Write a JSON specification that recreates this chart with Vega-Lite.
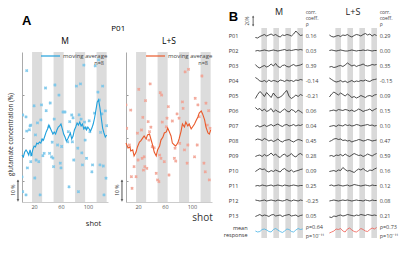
{
"$schema": "https://vega.github.io/schema/vega-lite/v6.json",
"padding": {"left": 7, "top": 8, "right": 0, "bottom": 0},
"config": {"font": "Open Sans", "view": {"stroke": null}, "axis": {"grid": false}, "axisX": {"labelOverlap": false, "labelBound": false, "labelFlush": false}},
"spacing": 10,
"datasets": {
"bands": [{"s0":17,"s1":32},{"s0":49,"s1":64},{"s0":81,"s1":96},{"s0":113,"s1":128}],
"a": [
{"c":"M","k":"avg","s":2,"v":-8.1},{"c":"M","k":"avg","s":4,"v":-9.0},{"c":"M","k":"avg","s":6,"v":-6.7},{"c":"M","k":"avg","s":8,"v":-5.7},{"c":"M","k":"avg","s":10,"v":-6.7},{"c":"M","k":"avg","s":12,"v":-8.1},{"c":"M","k":"avg","s":14,"v":-5.7},{"c":"M","k":"avg","s":16,"v":-8.5},{"c":"M","k":"avg","s":18,"v":-5.7},{"c":"M","k":"avg","s":20,"v":-3.9},{"c":"M","k":"avg","s":22,"v":-4.3},{"c":"M","k":"avg","s":24,"v":-2.5},{"c":"M","k":"avg","s":26,"v":-2.9},{"c":"M","k":"avg","s":28,"v":-2.0},{"c":"M","k":"avg","s":30,"v":-2.5},{"c":"M","k":"avg","s":32,"v":-0.6},{"c":"M","k":"avg","s":34,"v":-1.1},{"c":"M","k":"avg","s":36,"v":0.8},{"c":"M","k":"avg","s":38,"v":2.7},{"c":"M","k":"avg","s":40,"v":4.1},{"c":"M","k":"avg","s":42,"v":5.9},{"c":"M","k":"avg","s":44,"v":4.5},{"c":"M","k":"avg","s":46,"v":3.1},{"c":"M","k":"avg","s":48,"v":1.7},{"c":"M","k":"avg","s":50,"v":2.7},{"c":"M","k":"avg","s":52,"v":1.7},{"c":"M","k":"avg","s":54,"v":3.6},{"c":"M","k":"avg","s":56,"v":5.0},{"c":"M","k":"avg","s":58,"v":5.5},{"c":"M","k":"avg","s":60,"v":6.4},{"c":"M","k":"avg","s":62,"v":4.1},{"c":"M","k":"avg","s":64,"v":1.7},{"c":"M","k":"avg","s":66,"v":0.3},{"c":"M","k":"avg","s":68,"v":-1.5},{"c":"M","k":"avg","s":70,"v":-0.6},{"c":"M","k":"avg","s":72,"v":0.8},{"c":"M","k":"avg","s":74,"v":2.2},{"c":"M","k":"avg","s":76,"v":-0.6},{"c":"M","k":"avg","s":78,"v":0.8},{"c":"M","k":"avg","s":80,"v":3.6},{"c":"M","k":"avg","s":82,"v":5.0},{"c":"M","k":"avg","s":84,"v":6.9},{"c":"M","k":"avg","s":86,"v":5.9},{"c":"M","k":"avg","s":88,"v":7.3},{"c":"M","k":"avg","s":90,"v":5.5},{"c":"M","k":"avg","s":92,"v":6.4},{"c":"M","k":"avg","s":94,"v":4.1},{"c":"M","k":"avg","s":96,"v":5.0},{"c":"M","k":"avg","s":98,"v":3.6},{"c":"M","k":"avg","s":100,"v":5.0},{"c":"M","k":"avg","s":102,"v":4.1},{"c":"M","k":"avg","s":104,"v":3.1},{"c":"M","k":"avg","s":106,"v":4.5},{"c":"M","k":"avg","s":108,"v":6.4},{"c":"M","k":"avg","s":110,"v":9.2},{"c":"M","k":"avg","s":112,"v":12.9},{"c":"M","k":"avg","s":114,"v":16.7},{"c":"M","k":"avg","s":116,"v":17.6},{"c":"M","k":"avg","s":118,"v":13.9},{"c":"M","k":"avg","s":120,"v":9.2},{"c":"M","k":"avg","s":122,"v":4.5},{"c":"M","k":"avg","s":124,"v":2.2},{"c":"M","k":"avg","s":126,"v":0.3},{"c":"M","k":"avg","s":128,"v":1.3},
{"c":"M","k":"pt","s":9,"v":31.3},{"c":"M","k":"pt","s":3,"v":10.6},{"c":"M","k":"pt","s":8,"v":9.7},{"c":"M","k":"pt","s":20,"v":14.9},{"c":"M","k":"pt","s":31,"v":15.3},{"c":"M","k":"pt","s":38,"v":12.6},{"c":"M","k":"pt","s":37,"v":23.2},{"c":"M","k":"pt","s":44,"v":16.2},{"c":"M","k":"pt","s":51,"v":24.6},{"c":"M","k":"pt","s":57,"v":19.9},{"c":"M","k":"pt","s":63,"v":12.0},{"c":"M","k":"pt","s":66,"v":12.0},{"c":"M","k":"pt","s":50,"v":8.7},{"c":"M","k":"pt","s":30,"v":8.3},{"c":"M","k":"pt","s":25,"v":6.9},{"c":"M","k":"pt","s":15,"v":5.9},{"c":"M","k":"pt","s":89,"v":25.1},{"c":"M","k":"pt","s":94,"v":33.9},{"c":"M","k":"pt","s":116,"v":36.3},{"c":"M","k":"pt","s":111,"v":33.5},{"c":"M","k":"pt","s":122,"v":24.1},{"c":"M","k":"pt","s":115,"v":21.3},{"c":"M","k":"pt","s":117,"v":17.6},{"c":"M","k":"pt","s":126,"v":12.5},{"c":"M","k":"pt","s":128,"v":5.6},{"c":"M","k":"pt","s":90,"v":8.7},{"c":"M","k":"pt","s":76,"v":10.6},{"c":"M","k":"pt","s":73,"v":7.5},{"c":"M","k":"pt","s":95,"v":7.3},{"c":"M","k":"pt","s":110,"v":11.5},{"c":"M","k":"pt","s":121,"v":11.1},{"c":"M","k":"pt","s":83,"v":24.1},{"c":"M","k":"pt","s":78,"v":9.3},{"c":"M","k":"pt","s":87,"v":10.7},{"c":"M","k":"pt","s":102,"v":7.9},{"c":"M","k":"pt","s":14,"v":5.5},
{"c":"M","k":"pt","s":9,"v":3.1},{"c":"M","k":"pt","s":13,"v":3.7},{"c":"M","k":"pt","s":2,"v":-18.3},{"c":"M","k":"pt","s":3,"v":-25.2},{"c":"M","k":"pt","s":8,"v":-26.7},{"c":"M","k":"pt","s":10,"v":-14.1},{"c":"M","k":"pt","s":15,"v":-11.2},{"c":"M","k":"pt","s":16,"v":-8.1},{"c":"M","k":"pt","s":23,"v":-10.4},{"c":"M","k":"pt","s":21,"v":-18.8},{"c":"M","k":"pt","s":27,"v":-11.2},{"c":"M","k":"pt","s":29,"v":-26.7},{"c":"M","k":"pt","s":33,"v":-8.4},{"c":"M","k":"pt","s":35,"v":-7.3},{"c":"M","k":"pt","s":43,"v":-7.3},{"c":"M","k":"pt","s":48,"v":-9.5},{"c":"M","k":"pt","s":46,"v":-8.9},{"c":"M","k":"pt","s":49,"v":-13.5},{"c":"M","k":"pt","s":60,"v":-14.1},{"c":"M","k":"pt","s":59,"v":-11.9},{"c":"M","k":"pt","s":70,"v":-1.9},{"c":"M","k":"pt","s":79,"v":-10.4},{"c":"M","k":"pt","s":77,"v":-1.9},{"c":"M","k":"pt","s":72,"v":-22.9},{"c":"M","k":"pt","s":86,"v":-25.2},{"c":"M","k":"pt","s":92,"v":-12.7},{"c":"M","k":"pt","s":91,"v":-7.1},{"c":"M","k":"pt","s":98,"v":-9.6},{"c":"M","k":"pt","s":107,"v":-12.7},{"c":"M","k":"pt","s":106,"v":-15.9},{"c":"M","k":"pt","s":118,"v":-12.7},{"c":"M","k":"pt","s":123,"v":-13.2},{"c":"M","k":"pt","s":124,"v":-26.7},{"c":"M","k":"pt","s":127,"v":-18.9},{"c":"M","k":"pt","s":97,"v":4.5},{"c":"M","k":"pt","s":103,"v":2.8},{"c":"M","k":"pt","s":119,"v":2.5},{"c":"M","k":"pt","s":85,"v":-4.9},{"c":"M","k":"pt","s":96,"v":-1.1},{"c":"M","k":"pt","s":22,"v":1.3},{"c":"M","k":"pt","s":32,"v":-1.1},{"c":"M","k":"pt","s":61,"v":-4.1},{"c":"M","k":"pt","s":55,"v":-3.4},{"c":"M","k":"pt","s":47,"v":-2.1},{"c":"M","k":"pt","s":71,"v":2.8},{"c":"M","k":"pt","s":42,"v":5.1},
{"c":"LS","k":"avg","s":2,"v":-2.5},{"c":"LS","k":"avg","s":5,"v":-4.8},{"c":"LS","k":"avg","s":8,"v":-4.3},{"c":"LS","k":"avg","s":9,"v":-6.2},{"c":"LS","k":"avg","s":12,"v":-5.7},{"c":"LS","k":"avg","s":14,"v":-8.5},{"c":"LS","k":"avg","s":17,"v":-6.7},{"c":"LS","k":"avg","s":19,"v":-4.3},{"c":"LS","k":"avg","s":22,"v":-2.0},{"c":"LS","k":"avg","s":24,"v":-1.5},{"c":"LS","k":"avg","s":27,"v":-0.1},{"c":"LS","k":"avg","s":29,"v":0.8},{"c":"LS","k":"avg","s":32,"v":-0.6},{"c":"LS","k":"avg","s":34,"v":1.3},{"c":"LS","k":"avg","s":37,"v":1.7},{"c":"LS","k":"avg","s":39,"v":-0.6},{"c":"LS","k":"avg","s":42,"v":-3.9},{"c":"LS","k":"avg","s":44,"v":-6.7},{"c":"LS","k":"avg","s":47,"v":-8.5},{"c":"LS","k":"avg","s":49,"v":-5.7},{"c":"LS","k":"avg","s":52,"v":-3.9},{"c":"LS","k":"avg","s":54,"v":-1.1},{"c":"LS","k":"avg","s":57,"v":0.3},{"c":"LS","k":"avg","s":59,"v":2.2},{"c":"LS","k":"avg","s":62,"v":2.7},{"c":"LS","k":"avg","s":64,"v":4.5},{"c":"LS","k":"avg","s":66,"v":3.1},{"c":"LS","k":"avg","s":69,"v":0.8},{"c":"LS","k":"avg","s":71,"v":-2.5},{"c":"LS","k":"avg","s":74,"v":-3.4},{"c":"LS","k":"avg","s":76,"v":-3.9},{"c":"LS","k":"avg","s":79,"v":-2.5},{"c":"LS","k":"avg","s":81,"v":-0.6},{"c":"LS","k":"avg","s":84,"v":3.1},{"c":"LS","k":"avg","s":86,"v":6.4},{"c":"LS","k":"avg","s":89,"v":5.0},{"c":"LS","k":"avg","s":91,"v":7.3},{"c":"LS","k":"avg","s":94,"v":5.5},{"c":"LS","k":"avg","s":96,"v":6.4},{"c":"LS","k":"avg","s":99,"v":4.1},{"c":"LS","k":"avg","s":101,"v":5.0},{"c":"LS","k":"avg","s":104,"v":6.4},{"c":"LS","k":"avg","s":106,"v":7.8},{"c":"LS","k":"avg","s":109,"v":9.7},{"c":"LS","k":"avg","s":111,"v":11.5},{"c":"LS","k":"avg","s":114,"v":12.5},{"c":"LS","k":"avg","s":116,"v":11.1},{"c":"LS","k":"avg","s":119,"v":8.3},{"c":"LS","k":"avg","s":121,"v":5.0},{"c":"LS","k":"avg","s":124,"v":2.2},{"c":"LS","k":"avg","s":126,"v":1.7},{"c":"LS","k":"avg","s":128,"v":3.6},
{"c":"LS","k":"pt","s":2,"v":15.3},{"c":"LS","k":"pt","s":9,"v":12.9},{"c":"LS","k":"pt","s":21,"v":22.6},{"c":"LS","k":"pt","s":31,"v":17.3},{"c":"LS","k":"pt","s":38,"v":25.1},{"c":"LS","k":"pt","s":27,"v":9.5},{"c":"LS","k":"pt","s":35,"v":7.5},{"c":"LS","k":"pt","s":39,"v":4.9},{"c":"LS","k":"pt","s":53,"v":21.0},{"c":"LS","k":"pt","s":55,"v":19.9},{"c":"LS","k":"pt","s":65,"v":14.5},{"c":"LS","k":"pt","s":63,"v":9.1},{"c":"LS","k":"pt","s":56,"v":7.3},{"c":"LS","k":"pt","s":71,"v":7.8},{"c":"LS","k":"pt","s":78,"v":11.1},{"c":"LS","k":"pt","s":86,"v":16.7},{"c":"LS","k":"pt","s":87,"v":13.7},{"c":"LS","k":"pt","s":90,"v":30.7},{"c":"LS","k":"pt","s":95,"v":31.9},{"c":"LS","k":"pt","s":105,"v":18.4},{"c":"LS","k":"pt","s":109,"v":15.3},{"c":"LS","k":"pt","s":115,"v":28.8},{"c":"LS","k":"pt","s":121,"v":16.1},{"c":"LS","k":"pt","s":125,"v":12.6},{"c":"LS","k":"pt","s":81,"v":9.1},{"c":"LS","k":"pt","s":111,"v":9.8},{"c":"LS","k":"pt","s":123,"v":5.9},
{"c":"LS","k":"pt","s":3,"v":4.4},{"c":"LS","k":"pt","s":7,"v":-3.4},{"c":"LS","k":"pt","s":14,"v":-13.5},{"c":"LS","k":"pt","s":17,"v":-18.2},{"c":"LS","k":"pt","s":11,"v":-23.6},{"c":"LS","k":"pt","s":26,"v":-9.6},{"c":"LS","k":"pt","s":30,"v":-13.5},{"c":"LS","k":"pt","s":33,"v":-14.3},{"c":"LS","k":"pt","s":28,"v":-15.1},{"c":"LS","k":"pt","s":19,"v":2.1},{"c":"LS","k":"pt","s":25,"v":3.6},{"c":"LS","k":"pt","s":36,"v":-1.1},{"c":"LS","k":"pt","s":41,"v":-4.2},{"c":"LS","k":"pt","s":44,"v":-4.7},{"c":"LS","k":"pt","s":47,"v":-16.6},{"c":"LS","k":"pt","s":52,"v":-8.1},{"c":"LS","k":"pt","s":54,"v":-9.6},{"c":"LS","k":"pt","s":59,"v":-11.2},{"c":"LS","k":"pt","s":66,"v":-17.4},{"c":"LS","k":"pt","s":51,"v":-20.5},{"c":"LS","k":"pt","s":74,"v":-9.6},{"c":"LS","k":"pt","s":76,"v":-10.9},{"c":"LS","k":"pt","s":75,"v":-4.9},{"c":"LS","k":"pt","s":82,"v":-2.6},{"c":"LS","k":"pt","s":89,"v":-5.7},{"c":"LS","k":"pt","s":94,"v":-3.4},{"c":"LS","k":"pt","s":104,"v":-8.9},{"c":"LS","k":"pt","s":93,"v":-11.9},{"c":"LS","k":"pt","s":108,"v":-3.4},{"c":"LS","k":"pt","s":118,"v":-11.9},{"c":"LS","k":"pt","s":120,"v":-15.9},{"c":"LS","k":"pt","s":126,"v":-19.7},{"c":"LS","k":"pt","s":127,"v":4.4},{"c":"LS","k":"pt","s":62,"v":5.1},{"c":"LS","k":"pt","s":37,"v":2.8},{"c":"LS","k":"pt","s":10,"v":-18.2},{"c":"LS","k":"pt","s":29,"v":-8.9},{"c":"LS","k":"pt","s":49,"v":-19.7},{"c":"LS","k":"pt","s":20,"v":-10.4}
],
"b": [
{"p":"P01","c":"M","r":"0.16"},{"p":"P02","c":"M","r":"0.03"},{"p":"P03","c":"M","r":"0.39"},{"p":"P04","c":"M","r":"-0.14"},{"p":"P05","c":"M","r":"-0.21"},{"p":"P06","c":"M","r":"0.06"},{"p":"P07","c":"M","r":"0.04"},{"p":"P08","c":"M","r":"0.45"},{"p":"P09","c":"M","r":"0.28"},{"p":"P10","c":"M","r":"0.09"},{"p":"P11","c":"M","r":"0.25"},{"p":"P12","c":"M","r":"-0.25"},{"p":"P13","c":"M","r":"0.05"},{"p":"mean response","c":"M","r":"ρ=0.64\np=10⁻¹¹"},
{"p":"P01","c":"L+S","r":"0.29"},{"p":"P02","c":"L+S","r":"0.00"},{"p":"P03","c":"L+S","r":"0.35"},{"p":"P04","c":"L+S","r":"-0.15"},{"p":"P05","c":"L+S","r":"0.09"},{"p":"P06","c":"L+S","r":"0.15"},{"p":"P07","c":"L+S","r":"0.10"},{"p":"P08","c":"L+S","r":"0.47"},{"p":"P09","c":"L+S","r":"0.59"},{"p":"P10","c":"L+S","r":"0.16"},{"p":"P11","c":"L+S","r":"0.12"},{"p":"P12","c":"L+S","r":"0.08"},{"p":"P13","c":"L+S","r":"0.21"},{"p":"mean response","c":"L+S","r":"ρ=0.73\np=10⁻¹¹"},
{"p":"P01","c":"M","s":1,"v":-4},{"p":"P01","c":"M","s":7,"v":-5},{"p":"P01","c":"M","s":13,"v":-2},{"p":"P01","c":"M","s":19,"v":0},{"p":"P01","c":"M","s":25,"v":2},{"p":"P01","c":"M","s":31,"v":-1},{"p":"P01","c":"M","s":37,"v":1},{"p":"P01","c":"M","s":43,"v":3},{"p":"P01","c":"M","s":49,"v":0},{"p":"P01","c":"M","s":55,"v":2},{"p":"P01","c":"M","s":61,"v":-1},{"p":"P01","c":"M","s":67,"v":-3},{"p":"P01","c":"M","s":73,"v":1},{"p":"P01","c":"M","s":79,"v":0},{"p":"P01","c":"M","s":85,"v":2},{"p":"P01","c":"M","s":91,"v":1},{"p":"P01","c":"M","s":97,"v":-1},{"p":"P01","c":"M","s":103,"v":3},{"p":"P01","c":"M","s":109,"v":9},{"p":"P01","c":"M","s":115,"v":4},{"p":"P01","c":"M","s":121,"v":0},{"p":"P01","c":"M","s":127,"v":1},
{"p":"P01","c":"L+S","s":1,"v":1},{"p":"P01","c":"L+S","s":7,"v":-2},{"p":"P01","c":"L+S","s":13,"v":-3},{"p":"P01","c":"L+S","s":19,"v":-1},{"p":"P01","c":"L+S","s":25,"v":0},{"p":"P01","c":"L+S","s":31,"v":-2},{"p":"P01","c":"L+S","s":37,"v":1},{"p":"P01","c":"L+S","s":43,"v":0},{"p":"P01","c":"L+S","s":49,"v":2},{"p":"P01","c":"L+S","s":55,"v":-1},{"p":"P01","c":"L+S","s":61,"v":-3},{"p":"P01","c":"L+S","s":67,"v":0},{"p":"P01","c":"L+S","s":73,"v":2},{"p":"P01","c":"L+S","s":79,"v":1},{"p":"P01","c":"L+S","s":85,"v":-1},{"p":"P01","c":"L+S","s":91,"v":2},{"p":"P01","c":"L+S","s":97,"v":4},{"p":"P01","c":"L+S","s":103,"v":1},{"p":"P01","c":"L+S","s":109,"v":3},{"p":"P01","c":"L+S","s":115,"v":-1},{"p":"P01","c":"L+S","s":121,"v":2},{"p":"P01","c":"L+S","s":127,"v":0},
{"p":"P02","c":"M","s":1,"v":-1},{"p":"P02","c":"M","s":7,"v":0},{"p":"P02","c":"M","s":13,"v":-1},{"p":"P02","c":"M","s":19,"v":0},{"p":"P02","c":"M","s":25,"v":1},{"p":"P02","c":"M","s":31,"v":0},{"p":"P02","c":"M","s":37,"v":-1},{"p":"P02","c":"M","s":43,"v":0},{"p":"P02","c":"M","s":49,"v":1},{"p":"P02","c":"M","s":55,"v":0},{"p":"P02","c":"M","s":61,"v":-1},{"p":"P02","c":"M","s":67,"v":0},{"p":"P02","c":"M","s":73,"v":1},{"p":"P02","c":"M","s":79,"v":2},{"p":"P02","c":"M","s":85,"v":0},{"p":"P02","c":"M","s":91,"v":1},{"p":"P02","c":"M","s":97,"v":0},{"p":"P02","c":"M","s":103,"v":1},{"p":"P02","c":"M","s":109,"v":2},{"p":"P02","c":"M","s":115,"v":1},{"p":"P02","c":"M","s":121,"v":2},{"p":"P02","c":"M","s":127,"v":1},
{"p":"P02","c":"L+S","s":1,"v":0},{"p":"P02","c":"L+S","s":7,"v":1},{"p":"P02","c":"L+S","s":13,"v":0},{"p":"P02","c":"L+S","s":19,"v":-1},{"p":"P02","c":"L+S","s":25,"v":0},{"p":"P02","c":"L+S","s":31,"v":1},{"p":"P02","c":"L+S","s":37,"v":0},{"p":"P02","c":"L+S","s":43,"v":-1},{"p":"P02","c":"L+S","s":49,"v":-1},{"p":"P02","c":"L+S","s":55,"v":0},{"p":"P02","c":"L+S","s":61,"v":1},{"p":"P02","c":"L+S","s":67,"v":0},{"p":"P02","c":"L+S","s":73,"v":-1},{"p":"P02","c":"L+S","s":79,"v":0},{"p":"P02","c":"L+S","s":85,"v":0},{"p":"P02","c":"L+S","s":91,"v":1},{"p":"P02","c":"L+S","s":97,"v":0},{"p":"P02","c":"L+S","s":103,"v":1},{"p":"P02","c":"L+S","s":109,"v":0},{"p":"P02","c":"L+S","s":115,"v":-1},{"p":"P02","c":"L+S","s":121,"v":0},{"p":"P02","c":"L+S","s":127,"v":0},
{"p":"P03","c":"M","s":1,"v":2},{"p":"P03","c":"M","s":7,"v":-3},{"p":"P03","c":"M","s":13,"v":-5},{"p":"P03","c":"M","s":19,"v":-2},{"p":"P03","c":"M","s":25,"v":0},{"p":"P03","c":"M","s":31,"v":-3},{"p":"P03","c":"M","s":37,"v":-1},{"p":"P03","c":"M","s":43,"v":3},{"p":"P03","c":"M","s":49,"v":-1},{"p":"P03","c":"M","s":55,"v":4},{"p":"P03","c":"M","s":61,"v":-2},{"p":"P03","c":"M","s":67,"v":-4},{"p":"P03","c":"M","s":73,"v":0},{"p":"P03","c":"M","s":79,"v":1},{"p":"P03","c":"M","s":85,"v":-2},{"p":"P03","c":"M","s":91,"v":-3},{"p":"P03","c":"M","s":97,"v":0},{"p":"P03","c":"M","s":103,"v":2},{"p":"P03","c":"M","s":109,"v":-1},{"p":"P03","c":"M","s":115,"v":0},{"p":"P03","c":"M","s":121,"v":1},{"p":"P03","c":"M","s":127,"v":3},
{"p":"P03","c":"L+S","s":1,"v":-3},{"p":"P03","c":"L+S","s":7,"v":-2},{"p":"P03","c":"L+S","s":13,"v":-4},{"p":"P03","c":"L+S","s":19,"v":-3},{"p":"P03","c":"L+S","s":25,"v":-1},{"p":"P03","c":"L+S","s":31,"v":0},{"p":"P03","c":"L+S","s":37,"v":-2},{"p":"P03","c":"L+S","s":43,"v":1},{"p":"P03","c":"L+S","s":49,"v":5},{"p":"P03","c":"L+S","s":55,"v":2},{"p":"P03","c":"L+S","s":61,"v":-1},{"p":"P03","c":"L+S","s":67,"v":1},{"p":"P03","c":"L+S","s":73,"v":-2},{"p":"P03","c":"L+S","s":79,"v":0},{"p":"P03","c":"L+S","s":85,"v":1},{"p":"P03","c":"L+S","s":91,"v":3},{"p":"P03","c":"L+S","s":97,"v":0},{"p":"P03","c":"L+S","s":103,"v":-1},{"p":"P03","c":"L+S","s":109,"v":0},{"p":"P03","c":"L+S","s":115,"v":2},{"p":"P03","c":"L+S","s":121,"v":1},{"p":"P03","c":"L+S","s":127,"v":2},
{"p":"P04","c":"M","s":1,"v":6},{"p":"P04","c":"M","s":7,"v":3},{"p":"P04","c":"M","s":13,"v":-1},{"p":"P04","c":"M","s":19,"v":-2},{"p":"P04","c":"M","s":25,"v":0},{"p":"P04","c":"M","s":31,"v":-3},{"p":"P04","c":"M","s":37,"v":1},{"p":"P04","c":"M","s":43,"v":-2},{"p":"P04","c":"M","s":49,"v":0},{"p":"P04","c":"M","s":55,"v":-1},{"p":"P04","c":"M","s":61,"v":-3},{"p":"P04","c":"M","s":67,"v":1},{"p":"P04","c":"M","s":73,"v":0},{"p":"P04","c":"M","s":79,"v":-2},{"p":"P04","c":"M","s":85,"v":1},{"p":"P04","c":"M","s":91,"v":-1},{"p":"P04","c":"M","s":97,"v":0},{"p":"P04","c":"M","s":103,"v":-2},{"p":"P04","c":"M","s":109,"v":1},{"p":"P04","c":"M","s":115,"v":0},{"p":"P04","c":"M","s":121,"v":2},{"p":"P04","c":"M","s":127,"v":1},
{"p":"P04","c":"L+S","s":1,"v":5},{"p":"P04","c":"L+S","s":7,"v":2},{"p":"P04","c":"L+S","s":13,"v":-1},{"p":"P04","c":"L+S","s":19,"v":-3},{"p":"P04","c":"L+S","s":25,"v":-2},{"p":"P04","c":"L+S","s":31,"v":0},{"p":"P04","c":"L+S","s":37,"v":-3},{"p":"P04","c":"L+S","s":43,"v":-1},{"p":"P04","c":"L+S","s":49,"v":-4},{"p":"P04","c":"L+S","s":55,"v":-2},{"p":"P04","c":"L+S","s":61,"v":0},{"p":"P04","c":"L+S","s":67,"v":-3},{"p":"P04","c":"L+S","s":73,"v":-1},{"p":"P04","c":"L+S","s":79,"v":-2},{"p":"P04","c":"L+S","s":85,"v":0},{"p":"P04","c":"L+S","s":91,"v":-1},{"p":"P04","c":"L+S","s":97,"v":1},{"p":"P04","c":"L+S","s":103,"v":-1},{"p":"P04","c":"L+S","s":109,"v":-2},{"p":"P04","c":"L+S","s":115,"v":1},{"p":"P04","c":"L+S","s":121,"v":2},{"p":"P04","c":"L+S","s":127,"v":3},
{"p":"P05","c":"M","s":1,"v":-6},{"p":"P05","c":"M","s":7,"v":2},{"p":"P05","c":"M","s":13,"v":8},{"p":"P05","c":"M","s":19,"v":4},{"p":"P05","c":"M","s":25,"v":-2},{"p":"P05","c":"M","s":31,"v":6},{"p":"P05","c":"M","s":37,"v":1},{"p":"P05","c":"M","s":43,"v":-4},{"p":"P05","c":"M","s":49,"v":5},{"p":"P05","c":"M","s":55,"v":-1},{"p":"P05","c":"M","s":61,"v":-5},{"p":"P05","c":"M","s":67,"v":-3},{"p":"P05","c":"M","s":73,"v":0},{"p":"P05","c":"M","s":79,"v":6},{"p":"P05","c":"M","s":85,"v":10},{"p":"P05","c":"M","s":91,"v":-2},{"p":"P05","c":"M","s":97,"v":-6},{"p":"P05","c":"M","s":103,"v":-3},{"p":"P05","c":"M","s":109,"v":1},{"p":"P05","c":"M","s":115,"v":-2},{"p":"P05","c":"M","s":121,"v":2},{"p":"P05","c":"M","s":127,"v":0},
{"p":"P05","c":"L+S","s":1,"v":-3},{"p":"P05","c":"L+S","s":7,"v":3},{"p":"P05","c":"L+S","s":13,"v":7},{"p":"P05","c":"L+S","s":19,"v":4},{"p":"P05","c":"L+S","s":25,"v":1},{"p":"P05","c":"L+S","s":31,"v":5},{"p":"P05","c":"L+S","s":37,"v":2},{"p":"P05","c":"L+S","s":43,"v":-1},{"p":"P05","c":"L+S","s":49,"v":3},{"p":"P05","c":"L+S","s":55,"v":0},{"p":"P05","c":"L+S","s":61,"v":-4},{"p":"P05","c":"L+S","s":67,"v":-2},{"p":"P05","c":"L+S","s":73,"v":-5},{"p":"P05","c":"L+S","s":79,"v":-3},{"p":"P05","c":"L+S","s":85,"v":0},{"p":"P05","c":"L+S","s":91,"v":-2},{"p":"P05","c":"L+S","s":97,"v":-4},{"p":"P05","c":"L+S","s":103,"v":-1},{"p":"P05","c":"L+S","s":109,"v":0},{"p":"P05","c":"L+S","s":115,"v":-2},{"p":"P05","c":"L+S","s":121,"v":1},{"p":"P05","c":"L+S","s":127,"v":2},
{"p":"P06","c":"M","s":1,"v":6},{"p":"P06","c":"M","s":7,"v":2},{"p":"P06","c":"M","s":13,"v":4},{"p":"P06","c":"M","s":19,"v":-1},{"p":"P06","c":"M","s":25,"v":3},{"p":"P06","c":"M","s":31,"v":-2},{"p":"P06","c":"M","s":37,"v":0},{"p":"P06","c":"M","s":43,"v":4},{"p":"P06","c":"M","s":49,"v":-3},{"p":"P06","c":"M","s":55,"v":1},{"p":"P06","c":"M","s":61,"v":-2},{"p":"P06","c":"M","s":67,"v":-4},{"p":"P06","c":"M","s":73,"v":0},{"p":"P06","c":"M","s":79,"v":3},{"p":"P06","c":"M","s":85,"v":-1},{"p":"P06","c":"M","s":91,"v":-3},{"p":"P06","c":"M","s":97,"v":2},{"p":"P06","c":"M","s":103,"v":0},{"p":"P06","c":"M","s":109,"v":-4},{"p":"P06","c":"M","s":115,"v":1},{"p":"P06","c":"M","s":121,"v":-2},{"p":"P06","c":"M","s":127,"v":-5},
{"p":"P06","c":"L+S","s":1,"v":-1},{"p":"P06","c":"L+S","s":7,"v":0},{"p":"P06","c":"L+S","s":13,"v":1},{"p":"P06","c":"L+S","s":19,"v":-1},{"p":"P06","c":"L+S","s":25,"v":2},{"p":"P06","c":"L+S","s":31,"v":1},{"p":"P06","c":"L+S","s":37,"v":0},{"p":"P06","c":"L+S","s":43,"v":2},{"p":"P06","c":"L+S","s":49,"v":1},{"p":"P06","c":"L+S","s":55,"v":-1},{"p":"P06","c":"L+S","s":61,"v":1},{"p":"P06","c":"L+S","s":67,"v":-2},{"p":"P06","c":"L+S","s":73,"v":0},{"p":"P06","c":"L+S","s":79,"v":3},{"p":"P06","c":"L+S","s":85,"v":1},{"p":"P06","c":"L+S","s":91,"v":-2},{"p":"P06","c":"L+S","s":97,"v":0},{"p":"P06","c":"L+S","s":103,"v":1},{"p":"P06","c":"L+S","s":109,"v":3},{"p":"P06","c":"L+S","s":115,"v":-1},{"p":"P06","c":"L+S","s":121,"v":2},{"p":"P06","c":"L+S","s":127,"v":4},
{"p":"P07","c":"M","s":1,"v":-2},{"p":"P07","c":"M","s":7,"v":0},{"p":"P07","c":"M","s":13,"v":-3},{"p":"P07","c":"M","s":19,"v":-1},{"p":"P07","c":"M","s":25,"v":1},{"p":"P07","c":"M","s":31,"v":-2},{"p":"P07","c":"M","s":37,"v":0},{"p":"P07","c":"M","s":43,"v":2},{"p":"P07","c":"M","s":49,"v":-1},{"p":"P07","c":"M","s":55,"v":1},{"p":"P07","c":"M","s":61,"v":3},{"p":"P07","c":"M","s":67,"v":0},{"p":"P07","c":"M","s":73,"v":-2},{"p":"P07","c":"M","s":79,"v":1},{"p":"P07","c":"M","s":85,"v":2},{"p":"P07","c":"M","s":91,"v":-1},{"p":"P07","c":"M","s":97,"v":0},{"p":"P07","c":"M","s":103,"v":2},{"p":"P07","c":"M","s":109,"v":-1},{"p":"P07","c":"M","s":115,"v":1},{"p":"P07","c":"M","s":121,"v":0},{"p":"P07","c":"M","s":127,"v":2},
{"p":"P07","c":"L+S","s":1,"v":-2},{"p":"P07","c":"L+S","s":7,"v":-1},{"p":"P07","c":"L+S","s":13,"v":0},{"p":"P07","c":"L+S","s":19,"v":-2},{"p":"P07","c":"L+S","s":25,"v":1},{"p":"P07","c":"L+S","s":31,"v":0},{"p":"P07","c":"L+S","s":37,"v":-1},{"p":"P07","c":"L+S","s":43,"v":2},{"p":"P07","c":"L+S","s":49,"v":0},{"p":"P07","c":"L+S","s":55,"v":1},{"p":"P07","c":"L+S","s":61,"v":-1},{"p":"P07","c":"L+S","s":67,"v":0},{"p":"P07","c":"L+S","s":73,"v":2},{"p":"P07","c":"L+S","s":79,"v":1},{"p":"P07","c":"L+S","s":85,"v":-1},{"p":"P07","c":"L+S","s":91,"v":0},{"p":"P07","c":"L+S","s":97,"v":1},{"p":"P07","c":"L+S","s":103,"v":2},{"p":"P07","c":"L+S","s":109,"v":0},{"p":"P07","c":"L+S","s":115,"v":1},{"p":"P07","c":"L+S","s":121,"v":-1},{"p":"P07","c":"L+S","s":127,"v":0},
{"p":"P08","c":"M","s":1,"v":1},{"p":"P08","c":"M","s":7,"v":3},{"p":"P08","c":"M","s":13,"v":2},{"p":"P08","c":"M","s":19,"v":0},{"p":"P08","c":"M","s":25,"v":4},{"p":"P08","c":"M","s":31,"v":2},{"p":"P08","c":"M","s":37,"v":-1},{"p":"P08","c":"M","s":43,"v":1},{"p":"P08","c":"M","s":49,"v":-2},{"p":"P08","c":"M","s":55,"v":0},{"p":"P08","c":"M","s":61,"v":3},{"p":"P08","c":"M","s":67,"v":-1},{"p":"P08","c":"M","s":73,"v":-3},{"p":"P08","c":"M","s":79,"v":0},{"p":"P08","c":"M","s":85,"v":1},{"p":"P08","c":"M","s":91,"v":2},{"p":"P08","c":"M","s":97,"v":-1},{"p":"P08","c":"M","s":103,"v":-3},{"p":"P08","c":"M","s":109,"v":0},{"p":"P08","c":"M","s":115,"v":2},{"p":"P08","c":"M","s":121,"v":1},{"p":"P08","c":"M","s":127,"v":-1},
{"p":"P08","c":"L+S","s":1,"v":-2},{"p":"P08","c":"L+S","s":7,"v":0},{"p":"P08","c":"L+S","s":13,"v":3},{"p":"P08","c":"L+S","s":19,"v":4},{"p":"P08","c":"L+S","s":25,"v":2},{"p":"P08","c":"L+S","s":31,"v":3},{"p":"P08","c":"L+S","s":37,"v":0},{"p":"P08","c":"L+S","s":43,"v":1},{"p":"P08","c":"L+S","s":49,"v":-1},{"p":"P08","c":"L+S","s":55,"v":0},{"p":"P08","c":"L+S","s":61,"v":-3},{"p":"P08","c":"L+S","s":67,"v":-1},{"p":"P08","c":"L+S","s":73,"v":0},{"p":"P08","c":"L+S","s":79,"v":2},{"p":"P08","c":"L+S","s":85,"v":1},{"p":"P08","c":"L+S","s":91,"v":-1},{"p":"P08","c":"L+S","s":97,"v":0},{"p":"P08","c":"L+S","s":103,"v":2},{"p":"P08","c":"L+S","s":109,"v":1},{"p":"P08","c":"L+S","s":115,"v":-1},{"p":"P08","c":"L+S","s":121,"v":0},{"p":"P08","c":"L+S","s":127,"v":1},
{"p":"P09","c":"M","s":1,"v":-2},{"p":"P09","c":"M","s":7,"v":0},{"p":"P09","c":"M","s":13,"v":1},{"p":"P09","c":"M","s":19,"v":-2},{"p":"P09","c":"M","s":25,"v":2},{"p":"P09","c":"M","s":31,"v":-1},{"p":"P09","c":"M","s":37,"v":1},{"p":"P09","c":"M","s":43,"v":5},{"p":"P09","c":"M","s":49,"v":0},{"p":"P09","c":"M","s":55,"v":3},{"p":"P09","c":"M","s":61,"v":-2},{"p":"P09","c":"M","s":67,"v":-4},{"p":"P09","c":"M","s":73,"v":1},{"p":"P09","c":"M","s":79,"v":3},{"p":"P09","c":"M","s":85,"v":-2},{"p":"P09","c":"M","s":91,"v":0},{"p":"P09","c":"M","s":97,"v":4},{"p":"P09","c":"M","s":103,"v":-1},{"p":"P09","c":"M","s":109,"v":-3},{"p":"P09","c":"M","s":115,"v":2},{"p":"P09","c":"M","s":121,"v":4},{"p":"P09","c":"M","s":127,"v":1},
{"p":"P09","c":"L+S","s":1,"v":-1},{"p":"P09","c":"L+S","s":7,"v":0},{"p":"P09","c":"L+S","s":13,"v":-2},{"p":"P09","c":"L+S","s":19,"v":1},{"p":"P09","c":"L+S","s":25,"v":0},{"p":"P09","c":"L+S","s":31,"v":2},{"p":"P09","c":"L+S","s":37,"v":-1},{"p":"P09","c":"L+S","s":43,"v":3},{"p":"P09","c":"L+S","s":49,"v":0},{"p":"P09","c":"L+S","s":55,"v":-2},{"p":"P09","c":"L+S","s":61,"v":1},{"p":"P09","c":"L+S","s":67,"v":4},{"p":"P09","c":"L+S","s":73,"v":2},{"p":"P09","c":"L+S","s":79,"v":0},{"p":"P09","c":"L+S","s":85,"v":1},{"p":"P09","c":"L+S","s":91,"v":-2},{"p":"P09","c":"L+S","s":97,"v":0},{"p":"P09","c":"L+S","s":103,"v":3},{"p":"P09","c":"L+S","s":109,"v":1},{"p":"P09","c":"L+S","s":115,"v":-1},{"p":"P09","c":"L+S","s":121,"v":2},{"p":"P09","c":"L+S","s":127,"v":4},
{"p":"P10","c":"M","s":1,"v":-2},{"p":"P10","c":"M","s":7,"v":1},{"p":"P10","c":"M","s":13,"v":4},{"p":"P10","c":"M","s":19,"v":2},{"p":"P10","c":"M","s":25,"v":3},{"p":"P10","c":"M","s":31,"v":-1},{"p":"P10","c":"M","s":37,"v":-3},{"p":"P10","c":"M","s":43,"v":0},{"p":"P10","c":"M","s":49,"v":-2},{"p":"P10","c":"M","s":55,"v":1},{"p":"P10","c":"M","s":61,"v":-1},{"p":"P10","c":"M","s":67,"v":-3},{"p":"P10","c":"M","s":73,"v":2},{"p":"P10","c":"M","s":79,"v":4},{"p":"P10","c":"M","s":85,"v":0},{"p":"P10","c":"M","s":91,"v":-2},{"p":"P10","c":"M","s":97,"v":1},{"p":"P10","c":"M","s":103,"v":-3},{"p":"P10","c":"M","s":109,"v":-1},{"p":"P10","c":"M","s":115,"v":0},{"p":"P10","c":"M","s":121,"v":2},{"p":"P10","c":"M","s":127,"v":3},
{"p":"P10","c":"L+S","s":1,"v":-2},{"p":"P10","c":"L+S","s":7,"v":-1},{"p":"P10","c":"L+S","s":13,"v":0},{"p":"P10","c":"L+S","s":19,"v":-2},{"p":"P10","c":"L+S","s":25,"v":1},{"p":"P10","c":"L+S","s":31,"v":0},{"p":"P10","c":"L+S","s":37,"v":6},{"p":"P10","c":"L+S","s":43,"v":2},{"p":"P10","c":"L+S","s":49,"v":-1},{"p":"P10","c":"L+S","s":55,"v":0},{"p":"P10","c":"L+S","s":61,"v":-2},{"p":"P10","c":"L+S","s":67,"v":-4},{"p":"P10","c":"L+S","s":73,"v":0},{"p":"P10","c":"L+S","s":79,"v":3},{"p":"P10","c":"L+S","s":85,"v":1},{"p":"P10","c":"L+S","s":91,"v":4},{"p":"P10","c":"L+S","s":97,"v":0},{"p":"P10","c":"L+S","s":103,"v":-2},{"p":"P10","c":"L+S","s":109,"v":1},{"p":"P10","c":"L+S","s":115,"v":0},{"p":"P10","c":"L+S","s":121,"v":3},{"p":"P10","c":"L+S","s":127,"v":5},
{"p":"P11","c":"M","s":1,"v":-1},{"p":"P11","c":"M","s":7,"v":0},{"p":"P11","c":"M","s":13,"v":-1},{"p":"P11","c":"M","s":19,"v":1},{"p":"P11","c":"M","s":25,"v":0},{"p":"P11","c":"M","s":31,"v":-1},{"p":"P11","c":"M","s":37,"v":0},{"p":"P11","c":"M","s":43,"v":1},{"p":"P11","c":"M","s":49,"v":-1},{"p":"P11","c":"M","s":55,"v":0},{"p":"P11","c":"M","s":61,"v":1},{"p":"P11","c":"M","s":67,"v":0},{"p":"P11","c":"M","s":73,"v":-1},{"p":"P11","c":"M","s":79,"v":1},{"p":"P11","c":"M","s":85,"v":0},{"p":"P11","c":"M","s":91,"v":-1},{"p":"P11","c":"M","s":97,"v":0},{"p":"P11","c":"M","s":103,"v":1},{"p":"P11","c":"M","s":109,"v":0},{"p":"P11","c":"M","s":115,"v":-1},{"p":"P11","c":"M","s":121,"v":0},{"p":"P11","c":"M","s":127,"v":0},
{"p":"P11","c":"L+S","s":1,"v":0},{"p":"P11","c":"L+S","s":7,"v":1},{"p":"P11","c":"L+S","s":13,"v":-1},{"p":"P11","c":"L+S","s":19,"v":0},{"p":"P11","c":"L+S","s":25,"v":1},{"p":"P11","c":"L+S","s":31,"v":0},{"p":"P11","c":"L+S","s":37,"v":-1},{"p":"P11","c":"L+S","s":43,"v":0},{"p":"P11","c":"L+S","s":49,"v":1},{"p":"P11","c":"L+S","s":55,"v":-1},{"p":"P11","c":"L+S","s":61,"v":0},{"p":"P11","c":"L+S","s":67,"v":2},{"p":"P11","c":"L+S","s":73,"v":1},{"p":"P11","c":"L+S","s":79,"v":0},{"p":"P11","c":"L+S","s":85,"v":-1},{"p":"P11","c":"L+S","s":91,"v":0},{"p":"P11","c":"L+S","s":97,"v":1},{"p":"P11","c":"L+S","s":103,"v":0},{"p":"P11","c":"L+S","s":109,"v":-1},{"p":"P11","c":"L+S","s":115,"v":1},{"p":"P11","c":"L+S","s":121,"v":0},{"p":"P11","c":"L+S","s":127,"v":0},
{"p":"P12","c":"M","s":1,"v":1},{"p":"P12","c":"M","s":7,"v":0},{"p":"P12","c":"M","s":13,"v":-1},{"p":"P12","c":"M","s":19,"v":0},{"p":"P12","c":"M","s":25,"v":1},{"p":"P12","c":"M","s":31,"v":-1},{"p":"P12","c":"M","s":37,"v":0},{"p":"P12","c":"M","s":43,"v":1},{"p":"P12","c":"M","s":49,"v":0},{"p":"P12","c":"M","s":55,"v":-1},{"p":"P12","c":"M","s":61,"v":1},{"p":"P12","c":"M","s":67,"v":0},{"p":"P12","c":"M","s":73,"v":-1},{"p":"P12","c":"M","s":79,"v":0},{"p":"P12","c":"M","s":85,"v":2},{"p":"P12","c":"M","s":91,"v":0},{"p":"P12","c":"M","s":97,"v":-1},{"p":"P12","c":"M","s":103,"v":1},{"p":"P12","c":"M","s":109,"v":0},{"p":"P12","c":"M","s":115,"v":-1},{"p":"P12","c":"M","s":121,"v":1},{"p":"P12","c":"M","s":127,"v":0},
{"p":"P12","c":"L+S","s":1,"v":-1},{"p":"P12","c":"L+S","s":7,"v":0},{"p":"P12","c":"L+S","s":13,"v":1},{"p":"P12","c":"L+S","s":19,"v":0},{"p":"P12","c":"L+S","s":25,"v":-1},{"p":"P12","c":"L+S","s":31,"v":0},{"p":"P12","c":"L+S","s":37,"v":1},{"p":"P12","c":"L+S","s":43,"v":0},{"p":"P12","c":"L+S","s":49,"v":1},{"p":"P12","c":"L+S","s":55,"v":0},{"p":"P12","c":"L+S","s":61,"v":-1},{"p":"P12","c":"L+S","s":67,"v":0},{"p":"P12","c":"L+S","s":73,"v":1},{"p":"P12","c":"L+S","s":79,"v":0},{"p":"P12","c":"L+S","s":85,"v":0},{"p":"P12","c":"L+S","s":91,"v":-1},{"p":"P12","c":"L+S","s":97,"v":1},{"p":"P12","c":"L+S","s":103,"v":0},{"p":"P12","c":"L+S","s":109,"v":-1},{"p":"P12","c":"L+S","s":115,"v":1},{"p":"P12","c":"L+S","s":121,"v":0},{"p":"P12","c":"L+S","s":127,"v":0},
{"p":"P13","c":"M","s":1,"v":-2},{"p":"P13","c":"M","s":7,"v":0},{"p":"P13","c":"M","s":13,"v":2},{"p":"P13","c":"M","s":19,"v":-1},{"p":"P13","c":"M","s":25,"v":1},{"p":"P13","c":"M","s":31,"v":0},{"p":"P13","c":"M","s":37,"v":-2},{"p":"P13","c":"M","s":43,"v":1},{"p":"P13","c":"M","s":49,"v":2},{"p":"P13","c":"M","s":55,"v":-1},{"p":"P13","c":"M","s":61,"v":0},{"p":"P13","c":"M","s":67,"v":1},{"p":"P13","c":"M","s":73,"v":-2},{"p":"P13","c":"M","s":79,"v":0},{"p":"P13","c":"M","s":85,"v":1},{"p":"P13","c":"M","s":91,"v":2},{"p":"P13","c":"M","s":97,"v":-1},{"p":"P13","c":"M","s":103,"v":0},{"p":"P13","c":"M","s":109,"v":1},{"p":"P13","c":"M","s":115,"v":-2},{"p":"P13","c":"M","s":121,"v":0},{"p":"P13","c":"M","s":127,"v":1},
{"p":"P13","c":"L+S","s":1,"v":-3},{"p":"P13","c":"L+S","s":7,"v":-4},{"p":"P13","c":"L+S","s":13,"v":-1},{"p":"P13","c":"L+S","s":19,"v":-2},{"p":"P13","c":"L+S","s":25,"v":0},{"p":"P13","c":"L+S","s":31,"v":1},{"p":"P13","c":"L+S","s":37,"v":-1},{"p":"P13","c":"L+S","s":43,"v":0},{"p":"P13","c":"L+S","s":49,"v":2},{"p":"P13","c":"L+S","s":55,"v":1},{"p":"P13","c":"L+S","s":61,"v":0},{"p":"P13","c":"L+S","s":67,"v":-1},{"p":"P13","c":"L+S","s":73,"v":1},{"p":"P13","c":"L+S","s":79,"v":0},{"p":"P13","c":"L+S","s":85,"v":2},{"p":"P13","c":"L+S","s":91,"v":1},{"p":"P13","c":"L+S","s":97,"v":0},{"p":"P13","c":"L+S","s":103,"v":2},{"p":"P13","c":"L+S","s":109,"v":1},{"p":"P13","c":"L+S","s":115,"v":0},{"p":"P13","c":"L+S","s":121,"v":1},{"p":"P13","c":"L+S","s":127,"v":0},
{"p":"mean response","c":"M","s":1,"v":-1},{"p":"mean response","c":"M","s":7,"v":-3},{"p":"mean response","c":"M","s":13,"v":-2},{"p":"mean response","c":"M","s":19,"v":2},{"p":"mean response","c":"M","s":25,"v":3},{"p":"mean response","c":"M","s":31,"v":1},{"p":"mean response","c":"M","s":37,"v":-2},{"p":"mean response","c":"M","s":43,"v":-3},{"p":"mean response","c":"M","s":49,"v":2},{"p":"mean response","c":"M","s":55,"v":4},{"p":"mean response","c":"M","s":61,"v":1},{"p":"mean response","c":"M","s":67,"v":-2},{"p":"mean response","c":"M","s":73,"v":-4},{"p":"mean response","c":"M","s":79,"v":-1},{"p":"mean response","c":"M","s":85,"v":3},{"p":"mean response","c":"M","s":91,"v":2},{"p":"mean response","c":"M","s":97,"v":-2},{"p":"mean response","c":"M","s":103,"v":-3},{"p":"mean response","c":"M","s":109,"v":1},{"p":"mean response","c":"M","s":115,"v":4},{"p":"mean response","c":"M","s":121,"v":2},{"p":"mean response","c":"M","s":127,"v":3},
{"p":"mean response","c":"L+S","s":1,"v":-5},{"p":"mean response","c":"L+S","s":7,"v":-3},{"p":"mean response","c":"L+S","s":13,"v":-1},{"p":"mean response","c":"L+S","s":19,"v":3},{"p":"mean response","c":"L+S","s":25,"v":2},{"p":"mean response","c":"L+S","s":31,"v":4},{"p":"mean response","c":"L+S","s":37,"v":-1},{"p":"mean response","c":"L+S","s":43,"v":-3},{"p":"mean response","c":"L+S","s":49,"v":3},{"p":"mean response","c":"L+S","s":55,"v":5},{"p":"mean response","c":"L+S","s":61,"v":1},{"p":"mean response","c":"L+S","s":67,"v":-2},{"p":"mean response","c":"L+S","s":73,"v":-3},{"p":"mean response","c":"L+S","s":79,"v":0},{"p":"mean response","c":"L+S","s":85,"v":4},{"p":"mean response","c":"L+S","s":91,"v":2},{"p":"mean response","c":"L+S","s":97,"v":-1},{"p":"mean response","c":"L+S","s":103,"v":-2},{"p":"mean response","c":"L+S","s":109,"v":2},{"p":"mean response","c":"L+S","s":115,"v":5},{"p":"mean response","c":"L+S","s":121,"v":3},{"p":"mean response","c":"L+S","s":127,"v":6}
]
},
"hconcat": [
{
"spacing": -4,
"vconcat": [
{
"width": 100, "height": 1,
"title": {"text": "A", "anchor": "start", "frame": "bounds", "fontSize": 13, "fontWeight": "bold", "font": "Liberation Sans", "color": "#000", "offset": 0},
"data": {"values": []},
"mark": {"type": "text"},
"encoding": {}
},
{
"title": {"text": "P01", "anchor": "middle", "fontSize": 8, "fontWeight": "normal", "offset": 4, "dx": 8},
"spacing": 18,
"bounds": "flush",
"resolve": {"scale": {"color": "independent"}, "legend": {"color": "independent"}},
"hconcat": [
{
"width": 86, "height": 150,
"title": {"text": "M", "fontSize": 8.5, "fontWeight": "normal", "offset": 0},
"layer": [
{"data": {"name": "bands"}, "mark": {"type": "rect", "color": "#dcdcdc"},
 "encoding": {"x": {"field": "s0", "type": "quantitative", "scale": {"domain": [2, 130], "nice": false, "zero": false},
   "axis": {"title": "shot", "values": [20, 40, 60, 80, 100, 120], "labelOverlap": false, "labelFontSize": 5.5, "labelColor": "#555", "ticks": false, "labelPadding": 2, "domainColor": "#ccc", "titleFontSize": 7.5, "titleFontWeight": "normal", "titleColor": "#222", "titleX": 71, "titleY": 23, "titleBaseline": "alphabetic", "titleAlign": "center"}},
  "x2": {"field": "s1"}}},
{"data": {"name": "a"}, "transform": [{"filter": "datum.c == 'M' && datum.k == 'pt'"}],
 "mark": {"type": "point", "shape": "cross", "angle": 45, "filled": true, "size": 11, "color": "#74c4ea", "opacity": 0.9, "clip": true},
 "encoding": {"x": {"field": "s", "type": "quantitative", "axis": {"title": "shot", "values": [20, 40, 60, 80, 100, 120], "labelOverlap": false}},
  "y": {"field": "v", "type": "quantitative", "scale": {"domain": [-30, 40], "nice": false, "zero": false},
   "axis": {"title": "glutamate concentration (%)", "labels": false, "values": [-20, -10, 0, 10, 20, 30], "tickSize": -2, "tickColor": "#999", "domainColor": "#aaa", "titleFontSize": 6.3, "titleFontWeight": "normal", "titleColor": "#222", "titlePadding": 8, "titleY": 82}}}},
{"data": {"name": "a"}, "transform": [{"filter": "datum.c == 'M' && datum.k == 'avg'"}],
 "mark": {"type": "line", "strokeWidth": 1.1},
 "encoding": {"x": {"field": "s", "type": "quantitative"}, "y": {"field": "v", "type": "quantitative"},
  "color": {"datum": "moving average", "type": "nominal", "scale": {"range": ["#1fa0dc"]},
   "legend": {"title": null, "orient": "none", "legendX": 18, "legendY": -6.5, "symbolType": "stroke", "symbolSize": 361, "symbolStrokeWidth": 1.2, "labelFontSize": 6, "labelColor": "#444", "padding": 0, "labelOffset": 2}}}},
{"data": {"values": [{}]}, "mark": {"type": "text", "text": "n=8", "align": "right", "baseline": "middle", "fontSize": 5.5, "color": "#444"},
 "encoding": {"x": {"datum": 124}, "y": {"datum": 35}}},
{"data": {"values": [{}]}, "mark": {"type": "rule", "color": "#222", "strokeWidth": 0.8},
 "encoding": {"x": {"datum": -4}, "y": {"datum": -29}, "y2": {"datum": -20}}},
{"data": {"values": [{}]}, "mark": {"type": "point", "shape": "triangle-up", "filled": true, "size": 7, "color": "#222"},
 "encoding": {"x": {"datum": -4}, "y": {"datum": -20}}},
{"data": {"values": [{}]}, "mark": {"type": "point", "shape": "triangle-down", "filled": true, "size": 7, "color": "#222"},
 "encoding": {"x": {"datum": -4}, "y": {"datum": -29.3}}},
{"data": {"values": [{}]}, "mark": {"type": "text", "text": "10 %", "angle": 270, "fontSize": 5, "color": "#333", "align": "center", "baseline": "middle"},
 "encoding": {"x": {"datum": -11}, "y": {"datum": -24.5}}}
]
},
{
"width": 86, "height": 150,
"title": {"text": "L+S", "fontSize": 8.5, "fontWeight": "normal", "offset": 0},
"layer": [
{"data": {"name": "bands"}, "mark": {"type": "rect", "color": "#dcdcdc"},
 "encoding": {"x": {"field": "s0", "type": "quantitative", "scale": {"domain": [2, 130], "nice": false, "zero": false},
   "axis": {"title": "shot", "values": [20, 40, 60, 80, 100, 120], "labelOverlap": false, "labelFontSize": 5.5, "labelColor": "#555", "ticks": false, "labelPadding": 2, "domainColor": "#ccc", "titleFontSize": 10, "titleFontWeight": "normal", "titleColor": "#333", "titleX": 76, "titleY": 18, "titleBaseline": "alphabetic", "titleAlign": "center"}},
  "x2": {"field": "s1"}}},
{"data": {"name": "a"}, "transform": [{"filter": "datum.c == 'LS' && datum.k == 'pt'"}],
 "mark": {"type": "point", "shape": "cross", "angle": 45, "filled": true, "size": 11, "color": "#f2a090", "opacity": 0.9, "clip": true},
 "encoding": {"x": {"field": "s", "type": "quantitative", "axis": {"title": "shot", "values": [20, 40, 60, 80, 100, 120], "labelOverlap": false}},
  "y": {"field": "v", "type": "quantitative", "scale": {"domain": [-30, 40], "nice": false, "zero": false},
   "axis": {"title": null, "labels": false, "values": [-20, -10, 0, 10, 20, 30], "tickSize": -2, "tickColor": "#999", "domainColor": "#aaa"}}}},
{"data": {"name": "a"}, "transform": [{"filter": "datum.c == 'LS' && datum.k == 'avg'"}],
 "mark": {"type": "line", "strokeWidth": 1.1},
 "encoding": {"x": {"field": "s", "type": "quantitative"}, "y": {"field": "v", "type": "quantitative"},
  "color": {"datum": "moving average", "type": "nominal", "scale": {"range": ["#ea5a2b"]},
   "legend": {"title": null, "orient": "none", "legendX": 19, "legendY": -6.5, "symbolType": "stroke", "symbolSize": 361, "symbolStrokeWidth": 1.2, "labelFontSize": 6, "labelColor": "#444", "padding": 0, "labelOffset": 2}}}},
{"data": {"values": [{}]}, "mark": {"type": "text", "text": "n=8", "align": "right", "baseline": "middle", "fontSize": 5.5, "color": "#444"},
 "encoding": {"x": {"datum": 124}, "y": {"datum": 35}}},
{"data": {"values": [{}]}, "mark": {"type": "rule", "color": "#222", "strokeWidth": 0.8},
 "encoding": {"x": {"datum": -4}, "y": {"datum": -29}, "y2": {"datum": -20}}},
{"data": {"values": [{}]}, "mark": {"type": "point", "shape": "triangle-up", "filled": true, "size": 7, "color": "#222"},
 "encoding": {"x": {"datum": -4}, "y": {"datum": -20}}},
{"data": {"values": [{}]}, "mark": {"type": "point", "shape": "triangle-down", "filled": true, "size": 7, "color": "#222"},
 "encoding": {"x": {"datum": -4}, "y": {"datum": -29.3}}},
{"data": {"values": [{}]}, "mark": {"type": "text", "text": "10 %", "angle": 270, "fontSize": 5, "color": "#333", "align": "center", "baseline": "middle"},
 "encoding": {"x": {"datum": -11}, "y": {"datum": -24.5}}}
]
}
]
}
]
},
{
"data": {"name": "b"},
"facet": {
 "row": {"field": "p", "type": "nominal", "title": null,
  "sort": ["P01","P02","P03","P04","P05","P06","P07","P08","P09","P10","P11","P12","P13","mean response"],
  "header": {"labelAngle": 0, "labelAlign": "right", "labelBaseline": "middle", "labelFontSize": 5.5, "labelColor": "#333", "labelPadding": 7,
   "labelExpr": "datum.value == 'mean response' ? '' : datum.value"}},
 "column": {"field": "c", "type": "nominal", "title": null, "sort": ["M", "L+S"],
  "header": {"labelFontSize": 9, "labelColor": "#222", "labelPadding": 11}}
},
"spacing": {"row": 0, "column": 26},
"bounds": "flush",
"spec": {
 "width": 48, "height": 15,
 "layer": [
  {"transform": [{"filter": "isValid(datum.r)"}], "mark": {"type": "rect", "color": "#d9d9d9"},
   "encoding": {"x": {"datum": 17, "type": "quantitative", "scale": {"domain": [0, 128], "nice": false, "zero": false}, "axis": null}, "x2": {"datum": 32}}},
  {"transform": [{"filter": "isValid(datum.r)"}], "mark": {"type": "rect", "color": "#d9d9d9"},
   "encoding": {"x": {"datum": 49, "type": "quantitative", "axis": null}, "x2": {"datum": 64}}},
  {"transform": [{"filter": "isValid(datum.r)"}], "mark": {"type": "rect", "color": "#d9d9d9"},
   "encoding": {"x": {"datum": 81, "type": "quantitative", "axis": null}, "x2": {"datum": 96}}},
  {"transform": [{"filter": "isValid(datum.r)"}], "mark": {"type": "rect", "color": "#d9d9d9"},
   "encoding": {"x": {"datum": 113, "type": "quantitative", "axis": null}, "x2": {"datum": 128}}},
  {"transform": [{"filter": "isValid(datum.s)"}], "mark": {"type": "line", "strokeWidth": 0.8},
   "encoding": {"x": {"field": "s", "type": "quantitative", "axis": null},
    "y": {"field": "v", "type": "quantitative", "scale": {"domain": [-15, 15], "nice": false, "zero": false},
     "axis": {"title": null, "labels": false, "ticks": false, "domain": true, "domainColor": "#d0d0d0"}},
    "color": {"condition": [{"test": "datum.p == 'mean response' && datum.c == 'M'", "value": "#45b3e6"}, {"test": "datum.p == 'mean response' && datum.c == 'L+S'", "value": "#ef5a50"}], "value": "#222"}}},
  {"transform": [{"filter": "isValid(datum.r) && datum.p != 'mean response'"}], "mark": {"type": "text", "align": "left", "baseline": "middle", "fontSize": 5.5, "color": "#444"},
   "encoding": {"x": {"datum": 135, "type": "quantitative", "axis": null}, "y": {"datum": 0, "type": "quantitative", "axis": null}, "text": {"field": "r"}}},
  {"transform": [{"filter": "isValid(datum.r) && datum.p == 'mean response'"}], "mark": {"type": "text", "align": "left", "baseline": "middle", "fontSize": 5.5, "color": "#444", "lineBreak": "\n", "lineHeight": 9},
   "encoding": {"x": {"datum": 135, "type": "quantitative", "axis": null}, "y": {"datum": 8, "type": "quantitative", "axis": null}, "text": {"field": "r"}}},
  {"transform": [{"filter": "isValid(datum.r) && datum.p == 'mean response' && datum.c == 'M'"}], "mark": {"type": "text", "text": ["mean", "response"], "align": "right", "baseline": "middle", "fontSize": 5.5, "color": "#333", "lineHeight": 7},
   "encoding": {"x": {"datum": -20, "type": "quantitative", "axis": null}, "y": {"datum": 6, "type": "quantitative", "axis": null}}},
  {"transform": [{"filter": "isValid(datum.r) && datum.p == 'P01'"}], "mark": {"type": "text", "text": ["corr.", "coeff.", "ρ"], "align": "left", "baseline": "alphabetic", "fontSize": 5, "color": "#444", "lineHeight": 6},
   "encoding": {"x": {"datum": 135, "type": "quantitative", "axis": null}, "y": {"datum": 44, "type": "quantitative", "axis": null}}},
  {"transform": [{"filter": "isValid(datum.r) && datum.p == 'P01' && datum.c == 'M'"}], "mark": {"type": "text", "text": "B", "align": "left", "baseline": "alphabetic", "fontSize": 13, "fontWeight": "bold", "font": "Liberation Sans", "color": "#000"},
   "encoding": {"x": {"datum": -70, "type": "quantitative", "axis": null}, "y": {"datum": 29, "type": "quantitative", "axis": null}}},
  {"transform": [{"filter": "isValid(datum.r) && datum.p == 'P01' && datum.c == 'M'"}], "mark": {"type": "rule", "color": "#222", "strokeWidth": 0.7},
   "encoding": {"x": {"datum": -5, "type": "quantitative", "axis": null}, "y": {"datum": 20, "type": "quantitative", "axis": null}, "y2": {"datum": 38}}},
  {"transform": [{"filter": "isValid(datum.r) && datum.p == 'P01' && datum.c == 'M'"}], "mark": {"type": "point", "shape": "triangle-up", "filled": true, "size": 5, "color": "#222"},
   "encoding": {"x": {"datum": -5, "type": "quantitative", "axis": null}, "y": {"datum": 38, "type": "quantitative", "axis": null}}},
  {"transform": [{"filter": "isValid(datum.r) && datum.p == 'P01' && datum.c == 'M'"}], "mark": {"type": "point", "shape": "triangle-down", "filled": true, "size": 5, "color": "#222"},
   "encoding": {"x": {"datum": -5, "type": "quantitative", "axis": null}, "y": {"datum": 20, "type": "quantitative", "axis": null}}},
  {"transform": [{"filter": "isValid(datum.r) && datum.p == 'P01' && datum.c == 'M'"}], "mark": {"type": "text", "text": "20%", "angle": 270, "fontSize": 4.5, "color": "#333", "align": "center", "baseline": "middle"},
   "encoding": {"x": {"datum": -18, "type": "quantitative", "axis": null}, "y": {"datum": 29, "type": "quantitative", "axis": null}}}
 ]
}
}
]
}
